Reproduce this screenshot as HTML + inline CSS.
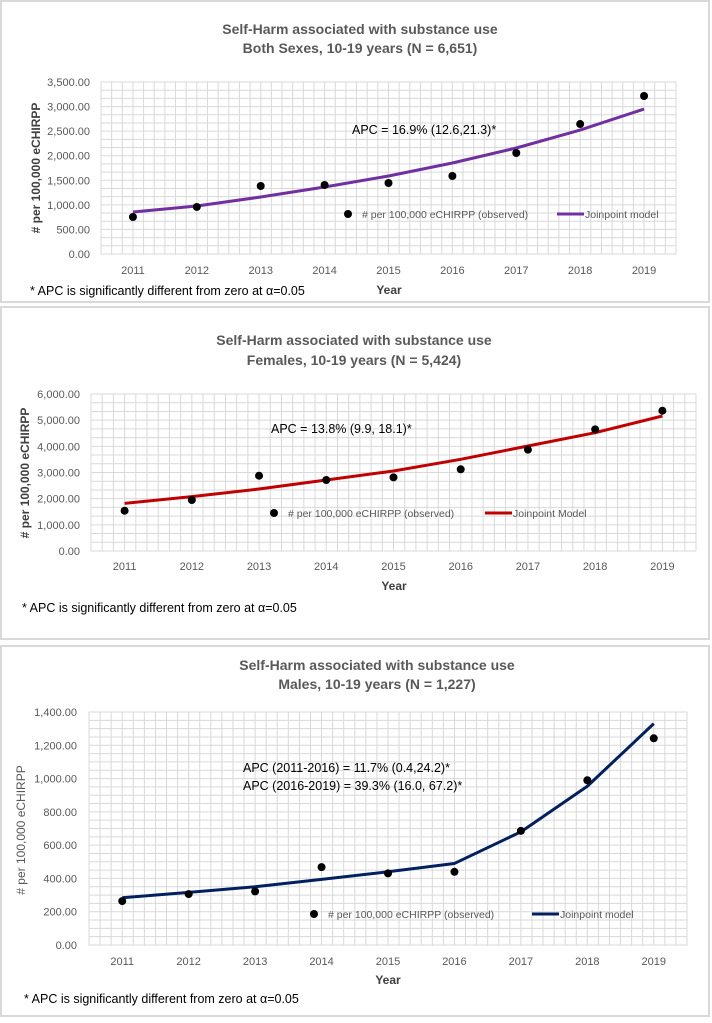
<!DOCTYPE html>
<html><head><meta charset="utf-8"><style>
body{margin:0;background:#fff;}
svg text{font-family:"Liberation Sans",sans-serif;}
</style></head><body>
<svg id="s" width="712" height="1018" xmlns="http://www.w3.org/2000/svg">
<rect x="1" y="1" width="708" height="301" fill="#fff" stroke="#d9d9d9" stroke-width="2"/>
<rect x="1" y="307" width="708" height="332" fill="#fff" stroke="#d9d9d9" stroke-width="2"/>
<rect x="1" y="646" width="708" height="370" fill="#fff" stroke="#d9d9d9" stroke-width="2"/>
</svg>
<script>
const years=[2011,2012,2013,2014,2015,2016,2017,2018,2019];
const obs1=[753,957,1384,1404,1445,1587,2055,2645,3215];
const mod1=[855,977,1160,1363,1587,1852,2157,2523,2950];
const ticks1=["0.00","500.00","1,000.00","1,500.00","2,000.00","2,500.00","3,000.00","3,500.00"];
const obs2=[1540,1949,2878,2713,2816,3122,3873,4650,5362];
const mod2=[1822,2076,2370,2713,3057,3504,4013,4522,5159];
const ticks2=["0.00","1,000.00","2,000.00","3,000.00","4,000.00","5,000.00","6,000.00"];
const obs3=[264,306,322,468,430,440,686,990,1242];
const mod3=[284,316,350,394,440,490,680,954,1330];
const ticks3=["0.00","200.00","400.00","600.00","800.00","1,000.00","1,200.00","1,400.00"];
const S=document.getElementById('s');const NS="http://www.w3.org/2000/svg";
function mk(t,a,txt){const e=document.createElementNS(NS,t);for(const k in a)e.setAttribute(k,a[k]);if(txt!==undefined)e.textContent=txt;S.appendChild(e);return e;}
function chart(c){
 const n=years.length,step=(c.x1-c.x0)/n;
 const x=i=>c.x0+step*(i+0.5);
 const y=v=>c.y1-(v/c.max)*(c.y1-c.y0);
 // grid
 const hs=(c.y1-c.y0)/c.hcount;
 for(let k=0;k<=c.hcount;k++){const g=mk('line',{x1:c.x0,x2:c.x1,y1:c.y1-k*hs,y2:c.y1-k*hs,stroke:'#d9d9d9','stroke-width':1});}
 const vs=step/6;
 for(let k=0;k<=n*6;k++){const g=mk('line',{x1:c.x0+k*vs,x2:c.x0+k*vs,y1:c.y0,y2:c.y1,stroke:'#d9d9d9','stroke-width':1});}
 c.ticks.forEach((t,i)=>{const v=i*c.max/(c.ticks.length-1);const e=mk('text',{x:c.lx,y:y(v)+4,'text-anchor':'end','font-size':11,fill:'#595959'},t);});
 years.forEach((yr,i)=>{const e=mk('text',{x:x(i),y:c.xly,'text-anchor':'middle','font-size':11,fill:'#595959'},yr);});
 const l=mk('polyline',{points:c.mod.map((v,i)=>x(i)+','+y(v)).join(' '),fill:'none',stroke:c.col,'stroke-width':3,'stroke-linejoin':'round'});
 
 c.obs.forEach((v,i)=>{const d=mk('circle',{cx:x(i),cy:y(v),r:4,fill:'#000'});});
 c.title.forEach((t,i)=>{const e=mk('text',{x:c.tx,y:c.ty[i],'text-anchor':'middle','font-size':14,'font-weight':'bold',fill:'#595959'},t);});
 const yt=mk('text',{x:c.ytx,y:c.yty,'text-anchor':'middle','font-size':12,'font-weight':c.ytb?'bold':'normal',fill:c.ytb?'#404040':'#595959',transform:`rotate(-90 ${c.ytx} ${c.yty})`},'# per 100,000 eCHIRPP');
 
 const xt=mk('text',{x:c.yearx,y:c.yeary,'text-anchor':'middle','font-size':12,'font-weight':'bold',fill:'#404040'},'Year');
 
 c.apc.forEach((t,i)=>{const e=mk('text',{x:c.ax,y:c.ay+i*18,'font-size':12.5,fill:'#000'},t);});
 const ld=mk('circle',{cx:c.lgd,cy:c.lgy,r:4,fill:'#000'});
 const lt=mk('text',{x:c.lgd+14,y:c.lgy+4,'font-size':10.5,fill:'#595959'},'# per 100,000 eCHIRPP (observed)');
 const ll=mk('line',{x1:c.lgl,x2:c.lgl+27,y1:c.lgy,y2:c.lgy,stroke:c.col,'stroke-width':3});
 const l2=mk('text',{x:c.lgl+28,y:c.lgy+4,'font-size':10.5,fill:'#595959'},c.mname);
 const f=mk('text',{x:c.fx,y:c.fy,'font-size':12.5,fill:'#000'},'* APC is significantly different from zero at α=0.05');
}
chart({x0:101,x1:676,y0:82,y1:254,max:3500,hcount:21,ticks:ticks1,lx:90,xly:274,obs:obs1,mod:mod1,col:'#7030a0',
 title:['Self-Harm associated with substance use','Both Sexes, 10-19 years (N = 6,651)'],tx:360,ty:[34,53],ytx:40,yty:168,ytb:true,
 yearx:389,yeary:294,apc:['APC = 16.9% (12.6,21.3)*'],ax:352,ay:134,lgd:348,lgy:214,lgl:557,mname:'Joinpoint model',fx:30,fy:295});
chart({x0:91,x1:696,y0:394,y1:551,max:6000,hcount:18,ticks:ticks2,lx:80,xly:570,obs:obs2,mod:mod2,col:'#c00000',
 title:['Self-Harm associated with substance use','Females, 10-19 years (N = 5,424)'],tx:354,ty:[345,365],ytx:29,yty:473,ytb:true,
 yearx:394,yeary:590,apc:['APC = 13.8% (9.9, 18.1)*'],ax:271,ay:433,lgd:274,lgy:513,lgl:485,mname:'Joinpoint Model',fx:22,fy:612});
chart({x0:89,x1:687,y0:712,y1:945,max:1400,hcount:28,ticks:ticks3,lx:77,xly:965,obs:obs3,mod:mod3,col:'#002060',
 title:['Self-Harm associated with substance use','Males, 10-19 years (N = 1,227)'],tx:377,ty:[670,689],ytx:25,yty:830,ytb:false,
 yearx:388,yeary:984,apc:['APC (2011-2016) = 11.7% (0.4,24.2)*','APC (2016-2019) = 39.3% (16.0, 67.2)*'],ax:243,ay:772,lgd:314,lgy:914,lgl:532,mname:'Joinpoint model',fx:24,fy:1003});
</script>
</body></html>
